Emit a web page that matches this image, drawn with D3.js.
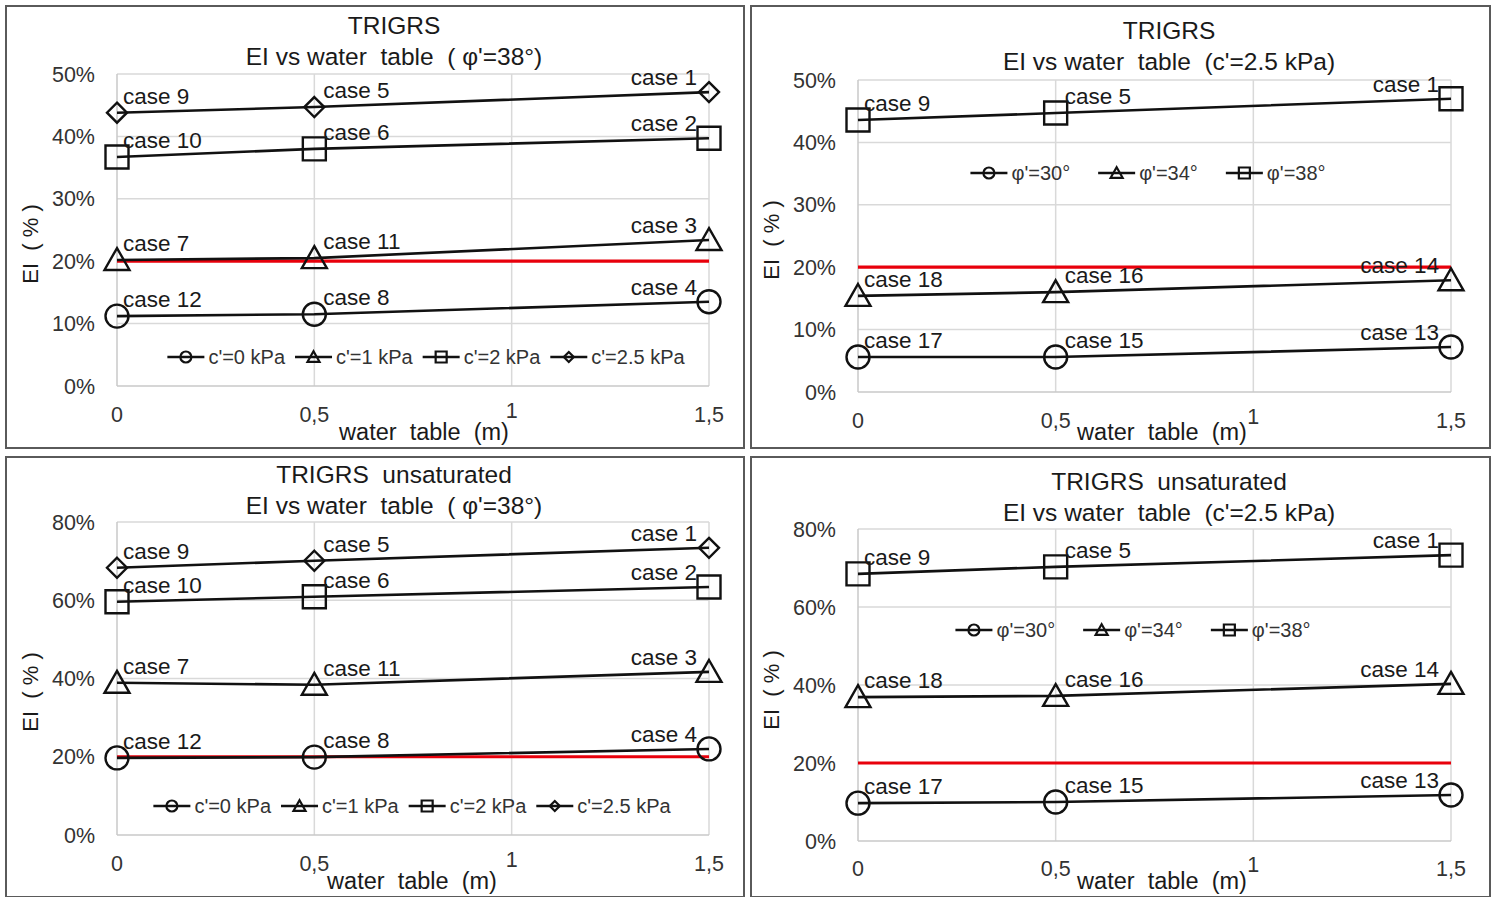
<!DOCTYPE html>
<html>
<head>
<meta charset="utf-8">
<script src="https://cdn.jsdelivr.net/npm/d3@7"></script>
<style>
  html, body { margin: 0; padding: 0; background: #fff; }
  svg { display: block; }
  text { font-family: "Liberation Sans", Arial, sans-serif; fill: #1a1a1a; white-space: pre; }
</style>
</head>
<body>
<svg id="chart" width="1498" height="897"></svg>
<script>
// ---- shared axis data ----
const waterTable = [0, 0.5, 1.5];
const xTickValues = [0, 0.5, 1, 1.5];
const xTickLabels = ["0", "0,5", "1", "1,5"];
const threshold = 20; // EI reference level (%)

// ---- TRIGRS, phi' = 38°, series by cohesion ----
const satPhi38_c0 = [11.2, 11.5, 13.5];
const satPhi38_c1 = [20.2, 20.5, 23.4];
const satPhi38_c2 = [36.7, 38.0, 39.7];
const satPhi38_c25 = [43.8, 44.7, 47.1];

// ---- TRIGRS, c' = 2.5 kPa, series by friction angle ----
const satC25_phi30 = [5.6, 5.6, 7.2];
const satC25_phi34 = [15.4, 16.0, 17.9];
const satC25_phi38 = [43.6, 44.7, 47.0];

// ---- TRIGRS unsaturated, phi' = 38° ----
const unsatPhi38_c0 = [19.7, 19.9, 22.0];
const unsatPhi38_c1 = [38.9, 38.4, 41.7];
const unsatPhi38_c2 = [59.6, 60.9, 63.4];
const unsatPhi38_c25 = [68.3, 70.1, 73.4];

// ---- TRIGRS unsaturated, c' = 2.5 kPa ----
const unsatC25_phi30 = [9.7, 10.0, 11.8];
const unsatC25_phi34 = [36.9, 37.2, 40.3];
const unsatC25_phi38 = [68.5, 70.3, 73.3];

// ---- case labels ----
const casesC0 = ["case 12", "case 8", "case 4"];
const casesC1 = ["case 7", "case 11", "case 3"];
const casesC2 = ["case 10", "case 6", "case 2"];
const casesC25 = ["case 9", "case 5", "case 1"];
const casesPhi30 = ["case 17", "case 15", "case 13"];
const casesPhi34 = ["case 18", "case 16", "case 14"];
const casesPhi38 = ["case 9", "case 5", "case 1"];

// ---- legends / titles / ticks ----
const legendCohesion = ["c'=0 kPa", "c'=1 kPa", "c'=2 kPa", "c'=2.5 kPa"];
const legendFriction = ["φ'=30°", "φ'=34°", "φ'=38°"];
const yTicks50 = [0, 10, 20, 30, 40, 50];
const yTicks80 = [0, 20, 40, 60, 80];
const titlesTop = ["TRIGRS", "TRIGRS", "TRIGRS  unsaturated", "TRIGRS  unsaturated"];
const titlesSub = ["EI vs water  table  ( φ'=38°)", "EI vs water  table  (c'=2.5 kPa)",
                   "EI vs water  table  ( φ'=38°)", "EI vs water  table  (c'=2.5 kPa)"];
const xAxisTitle = "water  table  (m)";
const yAxisTitle = "EI  ( % )";

const svg = d3.select("#chart");

// marker path generators (centered at 0,0)
const markerPath = {
  circle: s => { const r = s / 2; return `M${-r},0a${r},${r} 0 1,0 ${2*r},0a${r},${r} 0 1,0 ${-2*r},0Z`; },
  square: s => { const h = s / 2; return `M${-h},${-h}H${h}V${h}H${-h}Z`; },
  triangle: s => { const h = s / 2; return `M0,${-h * 0.95}L${h},${h * 0.8}L${-h},${h * 0.8}Z`; },
  diamond: s => { const h = s / 2; return `M0,${-h}L${h},0L0,${h}L${-h},0Z`; }
};
const markerSize = { circle: 23, square: 23, triangle: 25, diamond: 20 };
const legendMarkerSize = { circle: 11, square: 11, triangle: 12, diamond: 10 };

const panels = [
  { frame: [6, 6, 744, 448], xr: [117, 709], yr: [386, 74], yMax: 50, yTicks: yTicks50,
    series: [satPhi38_c0, satPhi38_c1, satPhi38_c2, satPhi38_c25],
    cases: [casesC0, casesC1, casesC2, casesC25],
    shapes: ["circle", "triangle", "square", "diamond"],
    legend: legendCohesion, legendY: 357, legendCx: 426, legendGap: 10,
    titleY: [25, 56], titleCx: 394, xTickY: 414, xTitle: [424, 432], yTitle: [30, 244], yLabelX: 95 },
  { frame: [751, 6, 1490, 448], xr: [858, 1451], yr: [392, 80], yMax: 50, yTicks: yTicks50,
    series: [satC25_phi30, satC25_phi34, satC25_phi38],
    cases: [casesPhi30, casesPhi34, casesPhi38],
    shapes: ["circle", "triangle", "square"],
    legend: legendFriction, legendY: 173, legendCx: 1148, legendGap: 28,
    titleY: [30, 61], titleCx: 1169, xTickY: 420, xTitle: [1162, 432], yTitle: [771, 240], yLabelX: 836 },
  { frame: [6, 457, 744, 897], xr: [117, 709], yr: [835, 522], yMax: 80, yTicks: yTicks80,
    series: [unsatPhi38_c0, unsatPhi38_c1, unsatPhi38_c2, unsatPhi38_c25],
    cases: [casesC0, casesC1, casesC2, casesC25],
    shapes: ["circle", "triangle", "square", "diamond"],
    legend: legendCohesion, legendY: 806, legendCx: 412, legendGap: 10,
    titleY: [474, 505], titleCx: 394, xTickY: 863, xTitle: [412, 881], yTitle: [30, 692], yLabelX: 95 },
  { frame: [751, 457, 1490, 897], xr: [858, 1451], yr: [841, 529], yMax: 80, yTicks: yTicks80,
    series: [unsatC25_phi30, unsatC25_phi34, unsatC25_phi38],
    cases: [casesPhi30, casesPhi34, casesPhi38],
    shapes: ["circle", "triangle", "square"],
    legend: legendFriction, legendY: 630, legendCx: 1133, legendGap: 28,
    titleY: [481, 512], titleCx: 1169, xTickY: 868, xTitle: [1162, 881], yTitle: [771, 690], yLabelX: 836 }
];

panels.forEach((p, pi) => {
  const g = svg.append("g");
  const [fx0, fy0, fx1, fy1] = p.frame;

  // frame
  g.append("rect").attr("x", fx0).attr("y", fy0).attr("width", fx1 - fx0).attr("height", fy1 - fy0)
    .attr("fill", "#fff").attr("stroke", "#5a5a5a").attr("stroke-width", 2);

  const x = d3.scaleLinear().domain([0, 1.5]).range(p.xr);
  const y = d3.scaleLinear().domain([0, p.yMax]).range(p.yr);

  // horizontal gridlines
  g.append("g").selectAll("line").data(p.yTicks.filter(t => t > 0)).join("line")
    .attr("x1", x(0)).attr("x2", x(1.5)).attr("y1", d => y(d)).attr("y2", d => y(d))
    .attr("stroke", "#d9d9d9").attr("stroke-width", 1.5);
  // vertical gridlines
  g.append("g").selectAll("line").data(xTickValues.filter(t => t > 0)).join("line")
    .attr("x1", d => x(d)).attr("x2", d => x(d)).attr("y1", y(0)).attr("y2", y(p.yMax))
    .attr("stroke", "#d9d9d9").attr("stroke-width", 1.5);
  // axis lines
  g.append("line").attr("x1", x(0)).attr("x2", x(1.5)).attr("y1", y(0)).attr("y2", y(0))
    .attr("stroke", "#c8c8c8").attr("stroke-width", 1.5);
  g.append("line").attr("x1", x(0)).attr("x2", x(0)).attr("y1", y(0)).attr("y2", y(p.yMax))
    .attr("stroke", "#c8c8c8").attr("stroke-width", 1.5);

  // y tick labels
  g.append("g").selectAll("text").data(p.yTicks).join("text")
    .attr("x", p.yLabelX).attr("y", d => y(d)).attr("dy", "0.35em")
    .attr("text-anchor", "end").attr("font-size", 21.5).style("fill", "#333")
    .text(d => d + "%");

  // x tick labels
  g.append("g").selectAll("text").data(xTickValues).join("text")
    .attr("x", d => x(d)).attr("y", (d, i) => p.xTickY - (i === 2 ? 4 : 0)).attr("dy", "0.35em")
    .attr("text-anchor", "middle").attr("font-size", 21.5).style("fill", "#333")
    .text((d, i) => xTickLabels[i]);

  // titles
  g.append("text").attr("x", p.titleCx).attr("y", p.titleY[0]).attr("dy", "0.35em")
    .attr("text-anchor", "middle").attr("font-size", 24.5).text(titlesTop[pi]);
  g.append("text").attr("x", p.titleCx).attr("y", p.titleY[1]).attr("dy", "0.35em")
    .attr("text-anchor", "middle").attr("font-size", 24.5).text(titlesSub[pi]);

  // axis titles
  g.append("text").attr("x", p.xTitle[0]).attr("y", p.xTitle[1]).attr("dy", "0.35em")
    .attr("text-anchor", "middle").attr("font-size", 23.5).text(xAxisTitle);
  g.append("text").attr("transform", `translate(${p.yTitle[0]},${p.yTitle[1]}) rotate(-90)`)
    .attr("dy", "0.35em").attr("text-anchor", "middle").attr("font-size", 22).text(yAxisTitle);

  // threshold line
  g.append("line").attr("x1", x(0)).attr("x2", x(1.5)).attr("y1", y(threshold)).attr("y2", y(threshold))
    .attr("stroke", "#e8000b").attr("stroke-width", 3.2);

  // series
  const line = d3.line().x((d, i) => x(waterTable[i])).y(d => y(d));
  p.series.forEach((vals, si) => {
    const shape = p.shapes[si];
    g.append("path").datum(vals).attr("d", line)
      .attr("fill", "none").attr("stroke", "#111").attr("stroke-width", 2.6);
    g.append("g").selectAll("path").data(vals).join("path")
      .attr("transform", (d, i) => `translate(${x(waterTable[i])},${y(d)})`)
      .attr("d", markerPath[shape](markerSize[shape]))
      .attr("fill", "none").attr("stroke", "#111").attr("stroke-width", 2.4);
    // case labels
    g.append("g").selectAll("text").data(vals).join("text")
      .attr("x", (d, i) => x(waterTable[i]) + (i === 0 ? 6 : i === 1 ? 9 : -12))
      .attr("y", (d, i) => y(d) - (i === 2 ? 15 : 17)).attr("dy", "0.35em")
      .attr("text-anchor", (d, i) => i === 2 ? "end" : "start")
      .attr("font-size", 22.5)
      .text((d, i) => p.cases[si][i]);
  });

  // legend laid out from measured text widths, centred on legendCx
  const lg = g.append("g");
  const items = p.legend.map((label, li) => {
    const it = lg.append("g");
    const shape = p.shapes[li];
    it.append("line").attr("x1", 0).attr("x2", 37).attr("y1", 0).attr("y2", 0)
      .attr("stroke", "#111").attr("stroke-width", 2.4);
    it.append("path").attr("transform", "translate(18.5,0)")
      .attr("d", markerPath[shape](legendMarkerSize[shape]))
      .attr("fill", "none").attr("stroke", "#111").attr("stroke-width", 2.2);
    const t = it.append("text").attr("x", 41).attr("y", 0).attr("dy", "0.35em")
      .attr("font-size", 20).style("fill", "#333").text(label);
    return { it, w: 41 + t.node().getComputedTextLength() };
  });
  const total = d3.sum(items, d => d.w) + p.legendGap * (items.length - 1);
  let cx = p.legendCx - total / 2;
  items.forEach(d => { d.it.attr("transform", `translate(${cx},${p.legendY})`); cx += d.w + p.legendGap; });
});
</script>
</body>
</html>
